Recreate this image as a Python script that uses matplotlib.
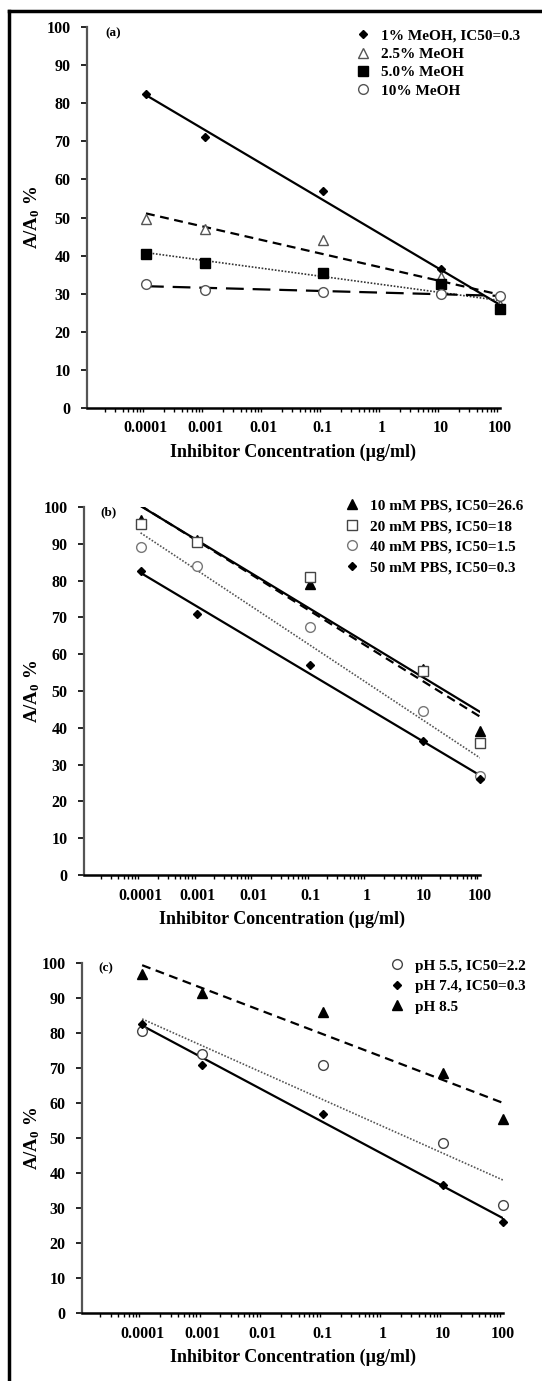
import numpy as np
import matplotlib
matplotlib.use("Agg")
import matplotlib.pyplot as plt
from matplotlib.lines import Line2D
from matplotlib.ticker import LogLocator, FixedLocator, NullFormatter

plt.rcParams['font.family'] = ['Liberation Serif', 'DejaVu Serif']
plt.rcParams['font.weight'] = 'bold'
plt.rcParams['axes.labelweight'] = 'bold'
plt.rcParams['mathtext.fontset'] = 'custom'
plt.rcParams['mathtext.rm'] = 'Liberation Serif:bold'
plt.rcParams['mathtext.it'] = 'Liberation Serif:bold'
plt.rcParams['mathtext.bf'] = 'Liberation Serif:bold'

# concentrations (ug/ml)
conc = [0.0001, 0.001, 0.1, 10, 100]
xtick_labels = ["0.0001", "0.001", "0.01", "0.1", "1", "10", "100"]

# (a) methanol
meoh_labels = ["1% MeOH, IC50=0.3", "2.5% MeOH", "5.0% MeOH", "10% MeOH"]
meoh_1 = [82.5, 71, 57, 36.5, 26]
meoh_25 = [49.5, 47, 44, 34.5, 27]
meoh_5 = [40.5, 38, 35.5, 32.5, 26]
meoh_10 = [32.5, 31, 30.5, 30, 29.5]

# (b) buffer
pbs_labels = ["10 mM PBS, IC50=26.6", "20 mM PBS, IC50=18",
              "40 mM PBS, IC50=1.5", "50 mM PBS, IC50=0.3"]
pbs_10 = [96.5, 91, 79, 56, 39]
pbs_20 = [95.5, 90.5, 81, 55.5, 36]
pbs_40 = [89, 84, 67.5, 44.5, 27]
pbs_50 = [82.5, 71, 57, 36.5, 26]

# (c) pH
ph_labels = ["pH 5.5, IC50=2.2", "pH 7.4, IC50=0.3", "pH 8.5"]
ph_55 = [80.5, 74, 71, 48.5, 31]
ph_74 = [82.5, 71, 57, 36.5, 26]
ph_85 = [97, 91.5, 86, 68.5, 55.5]

W, H = 542, 1381
fig = plt.figure(figsize=(W / 100, H / 100), dpi=100)


def px_axes(l, t, r, b):
    ax = fig.add_axes([l / W, 1 - b / H, (r - l) / W, (b - t) / H])
    ax.px_left, ax.px_width = l, r - l
    return ax


def trend(ax, y, style, color="black", lw=1.6):
    lx = np.log10(conc)
    k, c = np.polyfit(lx, y, 1)
    xs = np.array([lx[0], lx[-1]])
    ax.plot(10 ** xs, k * xs + c, linestyle=style, color=color, lw=lw, zorder=2)


def pts(ax, y, marker, **kw):
    return ax.plot(conc, y, marker, ls="none", zorder=3, clip_on=False, **kw)[0]


def style_axes(ax, tag, tag_x, tag_y):
    ax.set_xscale("log")
    ax.set_xlim(1e-5, 100)
    ax.set_ylim(0, 100)
    ax.set_yticks(range(0, 101, 10))
    ax.xaxis.set_major_locator(FixedLocator([1e-4, 1e-3, 1e-2, 1e-1, 1, 10, 100]))
    ax.set_xticklabels(xtick_labels)
    ax.xaxis.set_minor_locator(LogLocator(base=10, subs=np.arange(2, 10)))
    ax.xaxis.set_minor_formatter(NullFormatter())
    for s in ["top", "right"]:
        ax.spines[s].set_visible(False)
    ax.spines["left"].set_color("#555555")
    ax.spines["left"].set_linewidth(1.6)
    ax.spines["bottom"].set_linewidth(1.8)
    ax.tick_params(axis="y", direction="out", length=4, width=1.2, labelsize=11.5, pad=8)
    ax.tick_params(axis="x", which="major", direction="out", length=0, labelsize=11.5, pad=9)
    ax.tick_params(axis="x", which="minor", direction="out", length=3, width=1)
    ax.set_xlabel("Inhibitor Concentration (\u00b5g/ml)", fontsize=13, labelpad=5)
    ax.set_ylabel("A/A$_0$ %", fontsize=13.5)
    ax.yaxis.set_label_coords((42 - ax.px_left) / ax.px_width, 0.5)
    fig.text(tag_x / W, 1 - tag_y / H, tag, fontsize=9.5, ha="left", va="center")


def legend(ax, handles, labels, left, top, spacing):
    ax.legend(handles, labels, loc="upper left",
              bbox_to_anchor=(left / W, 1 - top / H), bbox_transform=fig.transFigure,
              frameon=False, fontsize=11, handlelength=1.0, handletextpad=0.7,
              labelspacing=spacing, borderaxespad=0, borderpad=0)


# panel (a)
ax1 = px_axes(87, 27, 500, 408)
trend(ax1, meoh_1, "-")
trend(ax1, meoh_25, (0, (4, 2.5)))
trend(ax1, meoh_5, (0, (1, 1)), color="#333333", lw=1.2)
trend(ax1, meoh_10, (0, (8, 4)))
h = [pts(ax1, meoh_1, "D", ms=4.5, color="black"),
     pts(ax1, meoh_25, "^", ms=7, mfc="white", mec="#555555"),
     pts(ax1, meoh_5, "s", ms=7, color="black"),
     pts(ax1, meoh_10, "o", ms=7, mfc="white", mec="#555555")]
style_axes(ax1, "(a)", 105, 33)
legend(ax1, h, meoh_labels, 355, 29, 0.3)

# panel (b)
ax2 = px_axes(84, 507, 480, 875)
trend(ax2, pbs_10, "-")
trend(ax2, pbs_20, (0, (4, 2.5)))
trend(ax2, pbs_40, (0, (1, 1)), color="#555555", lw=1.2)
trend(ax2, pbs_50, "-")
h = [pts(ax2, pbs_10, "^", ms=7, color="black"),
     pts(ax2, pbs_20, "s", ms=7, mfc="white", mec="#444444"),
     pts(ax2, pbs_40, "o", ms=7, mfc="white", mec="#777777"),
     pts(ax2, pbs_50, "D", ms=4.5, color="black")]
style_axes(ax2, "(b)", 100, 512)
legend(ax2, h, pbs_labels, 344, 499, 0.45)

# panel (c)
ax3 = px_axes(82, 963, 503, 1313)
trend(ax3, ph_55, (0, (1, 1)), color="#555555", lw=1.2)
trend(ax3, ph_74, "-")
trend(ax3, ph_85, (0, (4, 2.5)))
h = [pts(ax3, ph_55, "o", ms=7, mfc="white", mec="#444444"),
     pts(ax3, ph_74, "D", ms=4.5, color="black"),
     pts(ax3, ph_85, "^", ms=7, color="black")]
style_axes(ax3, "(c)", 98, 968)
legend(ax3, h, ph_labels, 389, 959, 0.45)

# frame lines on the figure
fig.add_artist(Line2D([9 / W, 9 / W], [0, 1 - 11 / H], color="black", lw=2.5))
fig.add_artist(Line2D([9 / W, 1], [1 - 11 / H, 1 - 11 / H], color="black", lw=2.5))

fig.savefig("out.png", dpi=100)
